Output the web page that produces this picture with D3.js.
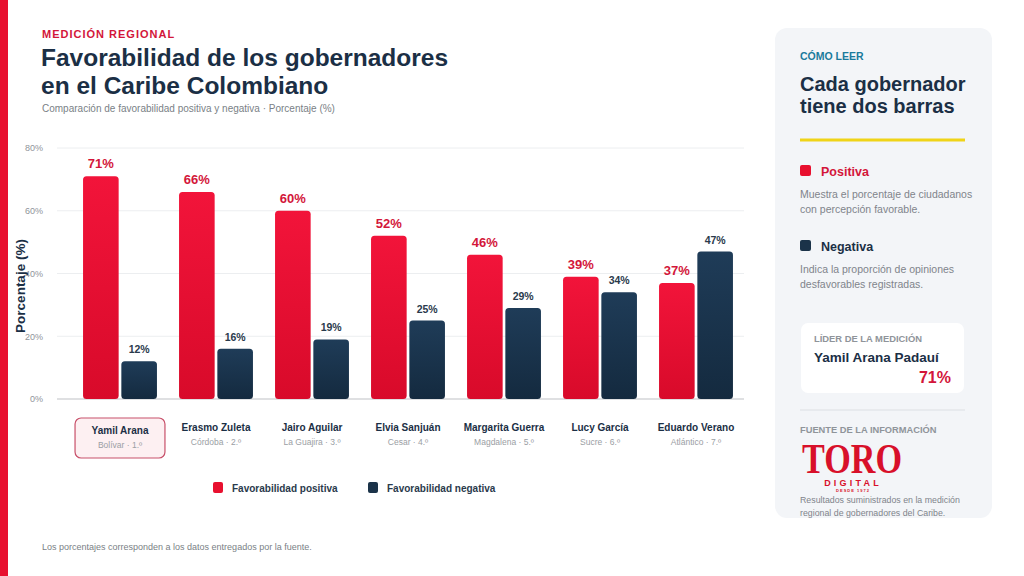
<!DOCTYPE html>
<html>
<head>
<meta charset="utf-8">
<script src="https://cdn.jsdelivr.net/npm/d3@7"></script>
<style>
  body { margin: 0; background: #fff; }
  svg { display: block; font-family: "Liberation Sans", Arial, sans-serif; }
</style>
</head>
<body>
<div id="chart"></div>
<script>
// data
const governors = ['Yamil Arana', 'Erasmo Zuleta', 'Jairo Aguilar', 'Elvia Sanjuán',
                   'Margarita Guerra', 'Lucy García', 'Eduardo Verano'];
const departments = ['Bolívar · 1.º', 'Córdoba · 2.º', 'La Guajira · 3.º', 'Cesar · 4.º',
                     'Magdalena · 5.º', 'Sucre · 6.º', 'Atlántico · 7.º'];
const positive = [71, 66, 60, 52, 46, 39, 37];
const negative = [12, 16, 19, 25, 29, 34, 47];
const y_ticks = [0, 20, 40, 60, 80];
const series = ['Favorabilidad positiva', 'Favorabilidad negativa'];

const RED = '#e8102f';
const NAVY = '#1b3349';
const TEXT = '#1b2f45';

const width = 1024, height = 576;
const svg = d3.select('#chart').append('svg')
  .attr('width', width).attr('height', height);

const defs = svg.append('defs');
const grad = (id, top, bottom) => {
  const g = defs.append('linearGradient').attr('id', id)
    .attr('x1', 0).attr('y1', 0).attr('x2', 0).attr('y2', 1);
  g.append('stop').attr('offset', '0%').attr('stop-color', top);
  g.append('stop').attr('offset', '100%').attr('stop-color', bottom);
};
grad('g-pos', '#f2143a', '#d80a2a');
grad('g-neg', '#1f3c58', '#142a3f');

// left accent stripe
svg.append('rect').attr('x', 0).attr('y', 0).attr('width', 8).attr('height', height).attr('fill', RED);

// header
svg.append('text').attr('x', 42).attr('y', 38).text('MEDICIÓN REGIONAL')
  .attr('fill', '#d3163a').attr('font-size', 11).attr('font-weight', 700).attr('letter-spacing', 1);
svg.append('text').attr('x', 41).attr('y', 66).text('Favorabilidad de los gobernadores')
  .attr('fill', TEXT).attr('font-size', 24.5).attr('font-weight', 700);
svg.append('text').attr('x', 41).attr('y', 94).text('en el Caribe Colombiano')
  .attr('fill', TEXT).attr('font-size', 24.5).attr('font-weight', 700);
svg.append('text').attr('x', 42).attr('y', 112).text('Comparación de favorabilidad positiva y negativa · Porcentaje (%)')
  .attr('fill', '#7a7f86').attr('font-size', 10);

// chart
const x = d3.scaleBand().domain(governors).range([72, 744]).paddingInner(0.23).paddingOuter(0.115);
const xs = d3.scaleBand().domain(series).range([0, x.bandwidth()]).paddingInner(0.07);
const y = d3.scaleLinear().domain([0, 80]).range([399, 148]);

const grid = svg.append('g');
grid.selectAll('line').data(y_ticks).join('line')
  .attr('x1', 57).attr('x2', 744)
  .attr('y1', d => y(d)).attr('y2', d => y(d))
  .attr('stroke', d => d === 0 ? '#d4d6d9' : '#eceef0').attr('stroke-width', d => d === 0 ? 1.5 : 1);

const yAxis = svg.append('g').attr('transform', 'translate(46,0)')
  .call(d3.axisLeft(y).tickValues(y_ticks).tickFormat(d => d + '%').tickSize(0));
yAxis.select('.domain').remove();
yAxis.selectAll('text').attr('fill', '#8f949a').attr('font-size', 9)
  .attr('font-family', '"Liberation Sans", Arial, sans-serif');

svg.append('text').attr('transform', 'translate(25,286) rotate(-90)')
  .attr('text-anchor', 'middle').text('Porcentaje (%)')
  .attr('fill', TEXT).attr('font-size', 13.5).attr('font-weight', 700);

const groups = svg.append('g').selectAll('g').data(governors).join('g')
  .attr('transform', d => `translate(${x(d)},0)`);

groups.append('rect')
  .attr('x', xs(series[0])).attr('width', xs.bandwidth())
  .attr('y', (d, i) => y(positive[i])).attr('height', (d, i) => y(0) - y(positive[i]))
  .attr('rx', 3.5).attr('fill', 'url(#g-pos)');
groups.append('rect')
  .attr('x', xs(series[1])).attr('width', xs.bandwidth())
  .attr('y', (d, i) => y(negative[i])).attr('height', (d, i) => y(0) - y(negative[i]))
  .attr('rx', 3.5).attr('fill', 'url(#g-neg)');

groups.append('text')
  .attr('x', xs(series[0]) + xs.bandwidth() / 2)
  .attr('y', (d, i) => y(positive[i]) - 8)
  .attr('text-anchor', 'middle').text((d, i) => positive[i] + '%')
  .attr('fill', '#d3163a').attr('font-size', 13).attr('font-weight', 700);
groups.append('text')
  .attr('x', xs(series[1]) + xs.bandwidth() / 2)
  .attr('y', (d, i) => y(negative[i]) - 8)
  .attr('text-anchor', 'middle').text((d, i) => negative[i] + '%')
  .attr('fill', '#2a3a4c').attr('font-size', 10.5).attr('font-weight', 700);

// highlighted leader label box
svg.append('rect').attr('x', x(governors[0]) - 8).attr('y', 418)
  .attr('width', x.bandwidth() + 16).attr('height', 40).attr('rx', 6)
  .attr('fill', '#fdf0f2').attr('stroke', '#c8506a').attr('stroke-width', 1.2);

const labels = svg.append('g').selectAll('g').data(governors).join('g')
  .attr('transform', (d, i) => `translate(${x(d) + x.bandwidth() / 2},${i === 0 ? 3 : 0})`);
labels.append('text').attr('y', 431).attr('text-anchor', 'middle').text(d => d)
  .attr('fill', TEXT).attr('font-size', 10).attr('font-weight', 700);
labels.append('text').attr('y', 445).attr('text-anchor', 'middle').text((d, i) => departments[i])
  .attr('fill', '#9a9ea4').attr('font-size', 8.5);

// legend
const legend = svg.append('g').selectAll('g').data(series).join('g')
  .attr('transform', (d, i) => `translate(${i === 0 ? 213 : 368},482)`);
legend.append('rect').attr('width', 10).attr('height', 11).attr('rx', 2)
  .attr('fill', (d, i) => i === 0 ? RED : NAVY);
legend.append('text').attr('x', 19).attr('y', 9.5).text(d => d)
  .attr('fill', '#2a3a4c').attr('font-size', 10).attr('font-weight', 700);

svg.append('text').attr('x', 42).attr('y', 550)
  .text('Los porcentajes corresponden a los datos entregados por la fuente.')
  .attr('fill', '#7a7f86').attr('font-size', 9);

// side panel
const panel = svg.append('g');
panel.append('rect').attr('x', 775).attr('y', 28).attr('width', 217).attr('height', 490).attr('rx', 12)
  .attr('fill', '#f3f5f8');
panel.append('text').attr('x', 800).attr('y', 60).text('CÓMO LEER')
  .attr('fill', '#1a7a9c').attr('font-size', 10.5).attr('font-weight', 700);
panel.append('text').attr('x', 800).attr('y', 91).text('Cada gobernador')
  .attr('fill', TEXT).attr('font-size', 20).attr('font-weight', 700);
panel.append('text').attr('x', 800).attr('y', 113).text('tiene dos barras')
  .attr('fill', TEXT).attr('font-size', 20).attr('font-weight', 700);
panel.append('rect').attr('x', 800).attr('y', 138.5).attr('width', 165).attr('height', 3)
  .attr('fill', '#f0d418');

const how = [
  { title: 'Positiva', color: RED, tcolor: '#d3163a', y: 165,
    lines: ['Muestra el porcentaje de ciudadanos', 'con percepción favorable.'] },
  { title: 'Negativa', color: NAVY, tcolor: TEXT, y: 240,
    lines: ['Indica la proporción de opiniones', 'desfavorables registradas.'] }
];
const item = panel.selectAll('g.how').data(how).join('g').attr('class', 'how')
  .attr('transform', d => `translate(800,${d.y})`);
item.append('rect').attr('width', 11).attr('height', 11).attr('rx', 2).attr('fill', d => d.color);
item.append('text').attr('x', 21).attr('y', 10.5).text(d => d.title)
  .attr('fill', d => d.tcolor).attr('font-size', 12.5).attr('font-weight', 700);
item.selectAll('text.desc').data(d => d.lines).join('text').attr('class', 'desc')
  .attr('y', (d, i) => 33 + i * 15).text(d => d)
  .attr('fill', '#7f848b').attr('font-size', 10.5);

panel.append('rect').attr('x', 801).attr('y', 323).attr('width', 163).attr('height', 70).attr('rx', 7)
  .attr('fill', '#fff');
panel.append('text').attr('x', 814).attr('y', 342).text('LÍDER DE LA MEDICIÓN')
  .attr('fill', '#8f949a').attr('font-size', 9.4).attr('font-weight', 700);
panel.append('text').attr('x', 814).attr('y', 362).text('Yamil Arana Padauí')
  .attr('fill', TEXT).attr('font-size', 13.5).attr('font-weight', 700);
panel.append('text').attr('x', 951).attr('y', 383).attr('text-anchor', 'end')
  .text(d3.max(positive) + '%')
  .attr('fill', '#d3163a').attr('font-size', 16).attr('font-weight', 700);

panel.append('line').attr('x1', 800).attr('x2', 965).attr('y1', 410).attr('y2', 410)
  .attr('stroke', '#dcdfe3');
panel.append('text').attr('x', 800).attr('y', 433).text('FUENTE DE LA INFORMACIÓN')
  .attr('fill', '#8f949a').attr('font-size', 9.3).attr('font-weight', 700);

// logo
panel.append('text').attr('transform', 'translate(802,473) scale(1,1.3)').text('TORO')
  .attr('fill', '#d8102a').attr('font-size', 32).attr('font-weight', 700)
  .attr('font-family', '"Liberation Serif", "DejaVu Serif", serif')
  .attr('textLength', 100).attr('lengthAdjust', 'spacingAndGlyphs');
panel.append('text').attr('x', 853).attr('y', 485.5).attr('text-anchor', 'middle').text('DIGITAL')
  .attr('fill', '#d8102a').attr('font-size', 9).attr('font-weight', 700).attr('letter-spacing', 3.2);
panel.append('text').attr('x', 853).attr('y', 491.5).attr('text-anchor', 'middle').text('DESDE 1972')
  .attr('fill', '#d8102a').attr('font-size', 4).attr('font-weight', 700).attr('letter-spacing', 1);

panel.append('text').attr('x', 800).attr('y', 503).text('Resultados suministrados en la medición')
  .attr('fill', '#7f848b').attr('font-size', 8.8);
panel.append('text').attr('x', 800).attr('y', 516).text('regional de gobernadores del Caribe.')
  .attr('fill', '#7f848b').attr('font-size', 8.8);
</script>
</body>
</html>
